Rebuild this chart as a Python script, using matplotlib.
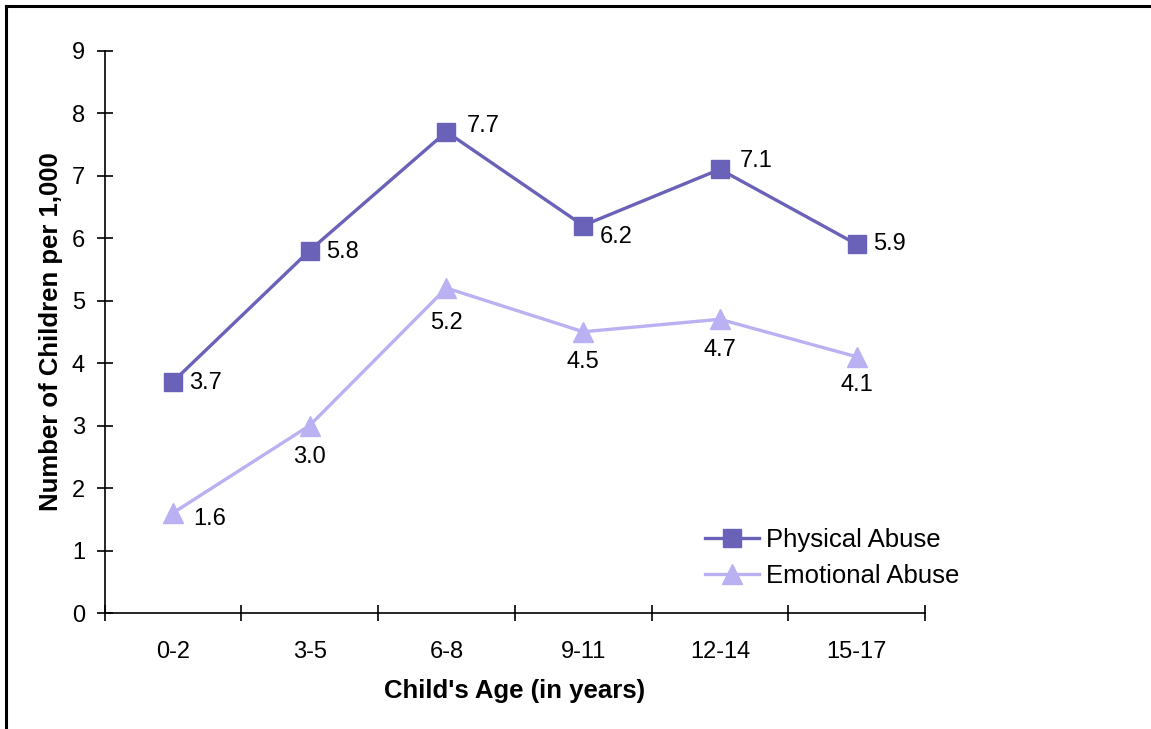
import matplotlib.pyplot as plt
from matplotlib.lines import Line2D

plt.rcParams['font.family'] = ['Liberation Sans', 'DejaVu Sans']

age_groups = ['0-2', '3-5', '6-8', '9-11', '12-14', '15-17']
physical = [3.7, 5.8, 7.7, 6.2, 7.1, 5.9]
emotional = [1.6, 3.0, 5.2, 4.5, 4.7, 4.1]

# label offsets (points) for each data label
phys_offsets = [(12, -1), (12, -1), (15, 4), (12, -8), (14, 6), (12, 0)]
emo_offsets = [(15, -4), (0, -23), (0, -25), (0, -22), (0, -22), (0, -20)]

PHYS_COLOR = '#6a62b8'
EMO_COLOR = '#b9b1f2'
FS = 17

fig = plt.figure(figsize=(11.51, 7.29), dpi=100)
ax = fig.add_axes([0.0908, 0.1591, 0.7129, 0.7716])

x = list(range(len(age_groups)))
ax.plot(x, physical, color=PHYS_COLOR, lw=2.4, marker='s', markersize=13,
        label='Physical Abuse')
ax.plot(x, emotional, color=EMO_COLOR, lw=2.4, marker='^', markersize=14,
        label='Emotional Abuse')

for xi, v, off in zip(x, physical, phys_offsets):
    ha = 'left' if off[0] != 0 else 'center'
    ax.annotate(f'{v:.1f}', (xi, v), xytext=off, textcoords='offset points',
                ha=ha, va='center', fontsize=FS, color='black')
for xi, v, off in zip(x, emotional, emo_offsets):
    ha = 'left' if off[0] != 0 else 'center'
    ax.annotate(f'{v:.1f}', (xi, v), xytext=off, textcoords='offset points',
                ha=ha, va='center', fontsize=FS, color='black')

ax.set_xlim(-0.5, len(age_groups) - 0.5)
ax.set_ylim(0, 9)
ax.set_yticks(range(0, 10))

# category labels centred, ticks on the boundaries
ax.set_xticks([i - 0.5 for i in range(len(age_groups) + 1)])
ax.set_xticklabels([''] * (len(age_groups) + 1))
ax.set_xticks(x, minor=True)
ax.set_xticklabels(age_groups, minor=True)
ax.tick_params(axis='x', which='minor', length=0, pad=20, labelsize=FS)
ax.tick_params(axis='x', which='major', direction='inout', length=12, width=1.2)
ax.tick_params(axis='y', direction='inout', length=12, width=1.2, pad=8,
               labelsize=FS)

for side in ['top', 'right']:
    ax.spines[side].set_visible(False)
for side in ['left', 'bottom']:
    ax.spines[side].set_linewidth(1.2)

ax.set_xlabel("Child's Age (in years)", fontsize=18.5, fontweight='bold')
ax.set_ylabel('Number of Children per 1,000', fontsize=18.5, fontweight='bold')
ax.xaxis.set_label_coords(0.5, -0.118)
ax.yaxis.set_label_coords(-0.051, 0.5)

ax.legend(loc='center left', bbox_to_anchor=(0.732, 0.098), frameon=False,
          fontsize=18.5, handlelength=2.1, handletextpad=0.25, labelspacing=0.45,
          borderaxespad=0, borderpad=0)

# outer frame (top and left edges)
fig.add_artist(Line2D([0.005, 0.005], [0, 0.992], transform=fig.transFigure,
                      color='black', lw=2.2))
fig.add_artist(Line2D([0.005, 1.0], [0.992, 0.992], transform=fig.transFigure,
                      color='black', lw=2.2))

fig.savefig('out.png', dpi=100, facecolor='white')
